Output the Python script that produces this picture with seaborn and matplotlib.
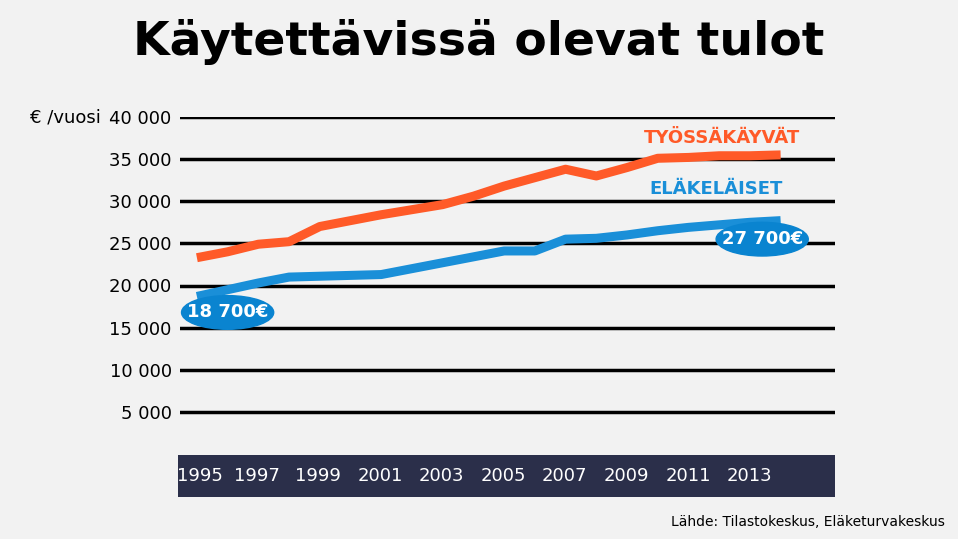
import matplotlib.pyplot as plt
import matplotlib.patches as mpatches
import seaborn as sns
import pandas as pd

years = list(range(1995, 2015))
tyossakayvat = [23300, 24000, 24900, 25200, 27000, 27700, 28400, 29000, 29600, 30600,
                31800, 32800, 33800, 33000, 34000, 35100, 35200, 35400, 35400, 35500]
elakelaiset = [18700, 19500, 20300, 21000, 21100, 21200, 21300, 22000, 22700, 23400,
               24100, 24100, 25500, 25600, 26000, 26500, 26900, 27200, 27500, 27700]
y_ticks = [5000, 10000, 15000, 20000, 25000, 30000, 35000, 40000]
x_ticks = list(range(1995, 2015, 2))

ORANGE = "#ff5a28"
BLUE = "#1a8fd8"
BG = "#f2f2f2"
NAVY = "#2b2f4a"

df = pd.DataFrame({"year": years, "Työssäkäyvät": tyossakayvat, "Eläkeläiset": elakelaiset})
long = df.melt(id_vars="year", var_name="ryhma", value_name="tulot")

W, H = 958, 539
fig = plt.figure(figsize=(W / 100, H / 100), dpi=100, facecolor=BG)
ax = fig.add_axes([180 / W, 1 - 454 / H, 655 / W, 337 / H])
ax.set_facecolor(BG)

for v in y_ticks:
    ax.axhline(v, color="black", lw=2.5, zorder=1)

sns.lineplot(data=long, x="year", y="tulot", hue="ryhma",
             palette={"Työssäkäyvät": ORANGE, "Eläkeläiset": BLUE},
             lw=6.5, legend=False, ax=ax, zorder=3)
for l in ax.lines[-2:]:
    l.set_solid_capstyle("butt")

ax.set_xlim(1994.45, 2015.77)
ax.set_ylim(0, 40000)
ax.set_xlabel("")
ax.set_ylabel("")
for s in ax.spines.values():
    s.set_visible(False)
ax.set_yticks(y_ticks)
ax.set_yticklabels([f"{v:,}".replace(",", " ") for v in y_ticks], fontsize=13)
ax.tick_params(axis="y", length=0, pad=6)
ax.set_xticks([])

# dark year band
band = fig.add_axes([178 / W, 1 - 497 / H, 657 / W, 42 / H])
band.set_facecolor(NAVY)
band.set_xlim(ax.get_xlim())
band.set_ylim(0, 1)
band.set_xticks([])
band.set_yticks([])
for s in band.spines.values():
    s.set_visible(False)
for yr in x_ticks:
    band.text(yr + (0.15 if yr == 1995 else 0), 0.5, str(yr), color="white", fontsize=13,
              ha="center", va="center")

fig.text(0.5, 1 - 42 / H, "Käytettävissä olevat tulot", fontsize=34, fontweight="heavy",
         ha="center", va="center", family="DejaVu Sans")
fig.text(30 / W, 1 - 118 / H, "€ /vuosi", fontsize=13, va="center")
ax.text(2012.1, 36900, "TYÖSSÄKÄYVÄT", color=ORANGE, fontsize=13, fontweight="bold", ha="center")
ax.text(2011.9, 30900, "ELÄKELÄISET", color=BLUE, fontsize=13, fontweight="bold", ha="center")

for x, y, txt in [(1996.0, 16800, "18 700€"), (2013.4, 25500, "27 700€")]:
    ax.add_patch(mpatches.Ellipse((x, y), 3.0, 4000, color="#0a84d0", zorder=4))
    ax.text(x, y, txt, color="white", fontsize=13, fontweight="bold",
            ha="center", va="center", zorder=5)

fig.text(945 / W, 1 - 522 / H, "Lähde: Tilastokeskus, Eläketurvakeskus", fontsize=10,
         ha="right", va="center")

fig.savefig("out.png", dpi=100, facecolor=BG)
